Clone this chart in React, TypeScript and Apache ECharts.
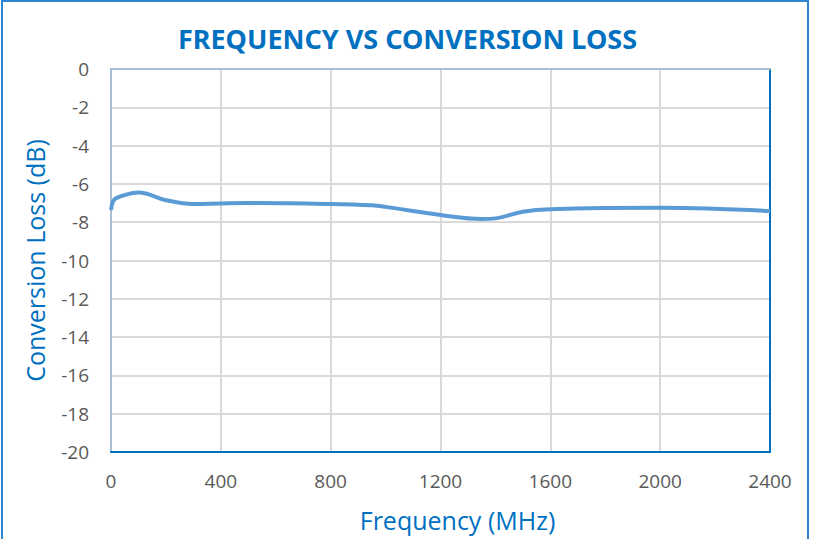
import React, { useEffect, useRef } from "react";
import * as echarts from "echarts";

const frequencies = [0, 10, 30, 100, 200, 300, 400, 500, 800, 950, 1000, 1200, 1350, 1400, 1500, 1600, 2000, 2400];
const lossValues = [-7.36, -6.85, -6.68, -6.45, -6.85, -7.05, -7.02, -7.0, -7.05, -7.12, -7.2, -7.62, -7.83, -7.8, -7.45, -7.32, -7.25, -7.42];
const xTicks = [0, 400, 800, 1200, 1600, 2000, 2400];
const yTicks = [0, -2, -4, -6, -8, -10, -12, -14, -16, -18, -20];

const titleText = "FREQUENCY VS CONVERSION LOSS";
const xName = "Frequency (MHz)";
const yName = "Conversion Loss (dB)";

export default function App() {
  const ref = useRef<HTMLDivElement>(null);
  useEffect(() => {
    if (!ref.current) return;
    const chart = echarts.init(ref.current, null, { renderer: "svg" });
    const font = "'Open Sans', 'Noto Sans', sans-serif";
    chart.setOption({
      animation: false,
      backgroundColor: "#ffffff",
      title: {
        text: titleText,
        left: "center",
        top: 20,
        textStyle: { fontFamily: "'Liberation Sans Narrow', 'Noto Sans', sans-serif", fontWeight: "bold", fontSize: 27, color: "#0070C0" },
      },
      graphic: [
        {
          type: "rect",
          shape: { x: 2, y: 1, width: 806, height: 545 },
          style: { fill: "none", stroke: "#2E86D0", lineWidth: 2 },
          silent: true,
        },
      ],
      grid: { left: 111, right: 45, top: 69, bottom: 87, containLabel: false },
      xAxis: [
        {
          type: "value",
          min: 0,
          max: 2400,
          interval: 400,
          position: "bottom",
          name: xName,
          nameLocation: "middle",
          nameGap: 55,
          nameTextStyle: { fontFamily: font, fontSize: 25, color: "#0070C0", padding: [0, 0, 0, 34] },
          axisLine: { show: true, onZero: false, lineStyle: { color: "#0070C0", width: 2 } },
          axisTick: { show: false },
          axisLabel: {
            fontFamily: font,
            fontSize: 19,
            color: "#595959",
            margin: 19,
            formatter: (v: number) => (xTicks.includes(v) ? String(v) : ""),
          },
          splitLine: { show: true, lineStyle: { color: "#D9D9D9", width: 2 } },
        },
        {
          type: "value",
          min: 0,
          max: 2400,
          interval: 400,
          position: "top",
          axisLine: { show: true, onZero: false, lineStyle: { color: "#A9BCD0", width: 2 } },
          axisTick: { show: false },
          axisLabel: { show: false },
          splitLine: { show: false },
        },
      ],
      yAxis: [
        {
          type: "value",
          min: -20,
          max: 0,
          interval: 2,
          position: "left",
          name: yName,
          nameLocation: "middle",
          nameGap: 64,
          nameTextStyle: { fontFamily: font, fontSize: 25, color: "#0070C0" },
          axisLine: { show: true, onZero: false, lineStyle: { color: "#A9BCD0", width: 2 } },
          axisTick: { show: false },
          axisLabel: {
            fontFamily: font,
            fontSize: 19,
            color: "#595959",
            margin: 22,
            formatter: (v: number) => (yTicks.includes(v) ? String(v) : ""),
          },
          splitLine: { show: true, lineStyle: { color: "#D9D9D9", width: 2 } },
        },
        {
          type: "value",
          min: -20,
          max: 0,
          interval: 2,
          position: "right",
          axisLine: { show: true, onZero: false, lineStyle: { color: "#0070C0", width: 2 } },
          axisTick: { show: false },
          axisLabel: { show: false },
          splitLine: { show: false },
        },
      ],
      series: [
        {
          type: "line",
          data: frequencies.map((f, i) => [f, lossValues[i]]),
          smooth: 0.4,
          showSymbol: false,
          lineStyle: { color: "#5B9BD5", width: 4 },
          xAxisIndex: 0,
          yAxisIndex: 0,
        },
      ],
    });
    return () => chart.dispose();
  }, []);
  return <div ref={ref} style={{ position: "absolute", left: 0, top: 0, width: 815, height: 539 }} />;
}
